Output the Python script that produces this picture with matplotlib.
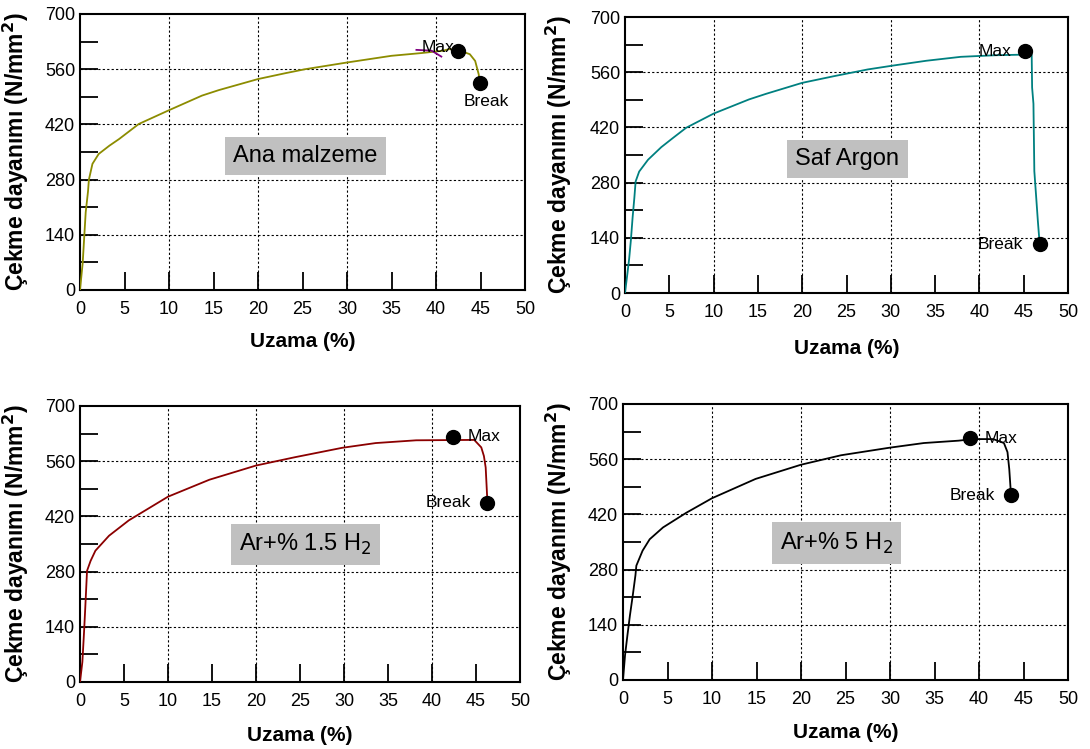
import matplotlib
matplotlib.use("Agg")
import matplotlib.pyplot as plt
from matplotlib.ticker import MultipleLocator

plt.rcParams['font.family'] = ['Liberation Sans', 'DejaVu Sans']

# --- data (Uzama %, Cekme dayanimi N/mm2) ---
ana_x = [0, 0.3, 0.5, 0.64, 0.9, 1.0, 1.4, 2.1, 3.3, 4.4, 6.6, 10.0, 13.7, 15.6,
         20.0, 23.1, 25.3, 30.0, 35.0, 38.4, 40.8, 41.5, 42.7, 43.8, 44.4, 44.8, 44.9]
ana_y = [0, 68, 144, 197, 250, 280, 320, 345, 366, 383, 421, 456, 493, 507,
         535, 550, 560, 577, 594, 601, 607, 611, 607, 598, 581, 547, 526]
ana_max = (42.5, 605)
ana_break = (44.9, 526)
ana_tangent_x = [37.8, 39.5, 40.6]
ana_tangent_y = [609, 607, 592]

saf_x = [0, 0.27, 0.47, 0.66, 0.86, 1.05, 1.2, 1.6, 2.6, 4.1, 5.4, 6.9, 10.0, 14.0,
         15.9, 20.0, 23.6, 27.4, 30.3, 34.0, 37.9, 41.8, 45.9, 45.95, 46.1, 46.2,
         46.4, 46.6, 46.8]
saf_y = [0, 49, 87, 133, 192, 240, 283, 308, 338, 370, 393, 419, 455, 491,
         505, 533, 550, 567, 577, 589, 599, 603, 605, 521, 480, 309,
         246, 182, 125]
saf_max = (45.1, 615)
saf_break = (46.8, 125)

h15_x = [0, 0.27, 0.46, 0.6, 0.8, 1.2, 1.75, 3.3, 5.55, 10.0, 14.7, 20.0, 24.4,
         29.8, 33.6, 38.2, 44.8, 45.6, 45.9, 46.1, 46.3]
h15_y = [0, 51, 127, 189, 282, 307, 333, 371, 410, 470, 513, 549, 570,
         594, 606, 613, 614, 595, 573, 544, 455]
h15_max = (42.4, 622)
h15_break = (46.3, 455)

h5_x = [0, 0.23, 0.5, 0.78, 1.1, 1.4, 1.5, 2.2, 3.0, 4.5, 7.1, 10.0, 14.9, 20.0,
        24.5, 29.9, 33.8, 37.7, 39.3, 41.6, 42.8, 43.2, 43.4, 43.6]
h5_y = [0, 63, 114, 164, 215, 266, 290, 328, 357, 387, 424, 461, 510, 546,
        570, 589, 601, 607, 611, 611, 601, 578, 535, 468]
h5_max = (39.0, 613)
h5_break = (43.6, 468)

titles = ['Ana malzeme', 'Saf Argon', 'Ar+% 1.5 H$_2$', 'Ar+% 5 H$_2$']
colors = ['#8c8c00', '#008080', '#8b0000', '#000000']

fig = plt.figure(figsize=(10.9, 7.49), dpi=100)
W, H = 1090, 749


def make_axes(l, r, t, b):
    return fig.add_axes([l / W, (H - b) / H, (r - l) / W, (b - t) / H])


axes = [make_axes(80, 525, 14, 290), make_axes(625, 1068, 17, 293),
        make_axes(80, 520, 406, 682), make_axes(623, 1068, 404, 680)]

curves = [(ana_x, ana_y, ana_max, ana_break),
          (saf_x, saf_y, saf_max, saf_break),
          (h15_x, h15_y, h15_max, h15_break),
          (h5_x, h5_y, h5_max, h5_break)]

box_pos = [(25.3, 340), (25.1, 340), (25.6, 349), (24.0, 347)]
ylab_x = [-0.11, -0.115, -0.111, -0.11]
xlab_y = [-0.152, -0.167, -0.16, -0.156]

# label positions for Max / Break: (x, y, ha)
max_lab = [(40.2, 615, 'center'), (43.6, 613, 'right'), (44.0, 622, 'left'), (40.6, 613, 'left')]
brk_lab = [(45.7, 479, 'center'), (44.9, 122, 'right'), (44.4, 455, 'right'), (41.8, 468, 'right')]

for i, ax in enumerate(axes):
    xs, ys, mx, br = curves[i]
    ax.set_xlim(0, 50)
    ax.set_ylim(0, 700)
    for g in [10, 20, 30, 40]:
        ax.axvline(g, color='black', lw=0.8, ls=(0, (2, 2)), zorder=0)
    for g in [140, 280, 420, 560]:
        ax.axhline(g, color='black', lw=0.8, ls=(0, (2, 2)), zorder=0)
    ax.plot(xs, ys, color=colors[i], lw=1.3, zorder=3)
    if i == 0:
        ax.plot(ana_tangent_x, ana_tangent_y, color='#800080', lw=1.3, zorder=4)
    ax.plot([mx[0]], [mx[1]], 'o', color='black', ms=10, zorder=5)
    ax.plot([br[0]], [br[1]], 'o', color='black', ms=10, zorder=5)
    ml = max_lab[i]
    ax.text(ml[0], ml[1], 'Max', ha=ml[2], va='center', fontsize=12.5, zorder=6)
    bl = brk_lab[i]
    ax.text(bl[0], bl[1], 'Break', ha=bl[2], va='center', fontsize=12.5, zorder=6)
    ax.text(box_pos[i][0], box_pos[i][1], titles[i], ha='center', va='center',
            fontsize=17, zorder=6,
            bbox=dict(facecolor='#c0c0c0', edgecolor='none', boxstyle='square,pad=0.35'))

    ax.xaxis.set_major_locator(MultipleLocator(5))
    ax.yaxis.set_major_locator(MultipleLocator(140))
    ax.yaxis.set_minor_locator(MultipleLocator(70))
    ax.tick_params(axis='both', which='both', direction='in', length=13, width=1.3,
                   labelsize=13, top=False, right=False)
    ax.tick_params(axis='x', pad=8)
    for s in ax.spines.values():
        s.set_linewidth(1.5)
    ax.set_xlabel('Uzama (%)', fontsize=15, fontweight='bold')
    ax.set_ylabel('Çekme dayanımı (N/mm$^\\mathbf{2}$)', fontsize=16.5, fontweight='bold')
    ax.xaxis.set_label_coords(0.5, xlab_y[i])
    ax.yaxis.set_label_coords(ylab_x[i], 0.5)

fig.savefig('out.png', dpi=100)
